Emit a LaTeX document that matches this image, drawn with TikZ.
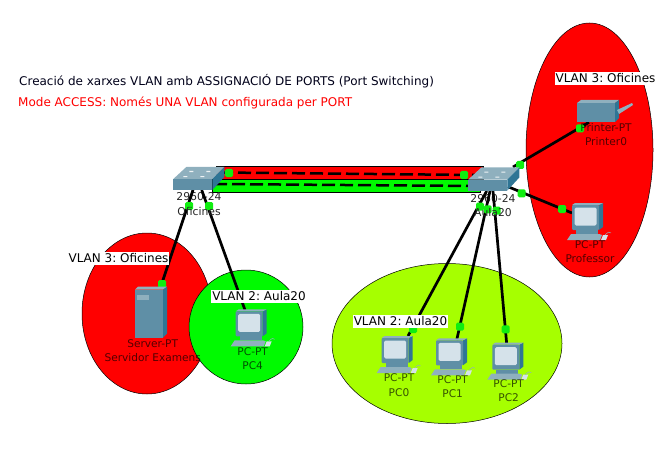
\documentclass[tikz,border=0pt]{standalone}
\usepackage{fontspec}
\setmainfont{DejaVu Sans}
\frenchspacing
\begin{document}
\begin{tikzpicture}[
        x=1pt, y=-1pt,
        zone/.style={draw=black, line width=0.5pt},
        vlanlabel/.style={fill=white, inner xsep=1pt, inner ysep=0pt, minimum height=13pt, font=\fontsize{12}{13}\selectfont},
        devlabel/.style={inner sep=0pt, text=black, text opacity=0.68, font=\fontsize{10.6}{12}\selectfont},
        swlabel/.style={inner sep=0pt, text=black!85, font=\fontsize{10.8}{12}\selectfont},
        link/.style={line width=2.7pt, draw=black},
        trunk/.style={line width=2.5pt, draw=black, dash pattern=on 13pt off 5pt},
        portdot/.style={rectangle, rounded corners=1.5pt, fill=portgreen, minimum size=8pt, inner sep=0pt},
        switchicon/.pic={
            \fill[toplight] (0,0) -- (13,-12) -- (51,-12) -- (39,0) -- cycle;
            \fill[frontblue] (0,0) rectangle (39,11);
            \fill[sideblue] (39,0) -- (51,-12) -- (51,-2) -- (39,11) -- cycle;
            \fill[white!85!toplight] (16,-8) rectangle (20,-7) (33,-8) rectangle (37,-7) (10,-3) rectangle (14,-2) (27,-3) rectangle (31,-2);
        },
        pcicon/.pic={
            \fill[sideblue] (27,2) -- (31,0) -- (31,24) -- (27,27) -- cycle;
            \fill[toplight] (0,2) -- (3,0) -- (31,0) -- (27,2) -- cycle;
            \fill[frontblue, rounded corners=1pt] (0,2) rectangle (27,27);
            \fill[screenblue, rounded corners=1.5pt] (2.5,4.5) rectangle (24.5,22.5);
            \fill[frontblue] (4,27) rectangle (26,31);
            \fill[toplight] (-1,31) -- (27,31) -- (30,32) -- (28,37) -- (-5,37) -- cycle;
            \fill[screenblue] (31,32) -- (36,32) -- (34,37) -- (29,37) -- cycle;
            \draw[toplight, line width=0.5pt] (33,32) .. controls (36,29) and (38,28) .. (39,30);
        },
        servericon/.pic={
            \fill[toplight] (0,3) -- (3,0) -- (32,0) -- (28,3) -- cycle;
            \fill[frontblue] (0,3) rectangle (28,51);
            \fill[sideblue] (28,3) -- (32,0) -- (32,47) -- (28,51) -- cycle;
            \fill[toplight] (2,8) rectangle (14,13);
        },
        printericon/.pic={
            \fill[toplight] (0,3) -- (4,0) -- (42,0) -- (38,3) -- cycle;
            \fill[frontblue] (0,3) rectangle (38,22);
            \fill[sideblue] (38,3) -- (42,0) -- (42,18) -- (38,22) -- cycle;
            \fill[toplight] (40,10) -- (55,3) -- (56,5) -- (42,14) -- cycle;
        }
    ]
    \definecolor{zonered}{HTML}{FF0000}
    \definecolor{zonegreen}{HTML}{00FA00}
    \definecolor{zonelime}{HTML}{A6FF00}
    \definecolor{portgreen}{HTML}{10EE10}
    \definecolor{frontblue}{HTML}{5F8FA6}
    \definecolor{sideblue}{HTML}{2F7595}
    \definecolor{toplight}{HTML}{8FB0BE}
    \definecolor{screenblue}{HTML}{D5E2EA}

    \useasboundingbox (0,0) rectangle (671,457);

    % zones
    \fill[zonered, zone] (589.5,150) ellipse [x radius=63.5, y radius=127];
    \fill[zonered, zone] (147,313.5) ellipse [x radius=65, y radius=80.5];
    \fill[zonegreen, zone] (246,327) circle [radius=57];
    \fill[zonelime, zone] (447,343.5) ellipse [x radius=115, y radius=80];

    % titles
    \node[anchor=west, inner sep=0pt, text=black!90!blue, font=\fontsize{12}{14}\selectfont] (title) at (19,81) {Creació de xarxes VLAN amb ASSIGNACIÓ DE PORTS (Port Switching)};
    \node[anchor=west, inner sep=0pt, text=red, font=\fontsize{12}{14}\selectfont] (subtitle) at (18,103) {Mode ACCESS: Només UNA VLAN configurada per PORT};

    % trunk between the switches
    \fill[zonered, draw=black, line width=1pt] (216,167) rectangle (483,179);
    \fill[zonegreen, draw=black, line width=1pt] (212,179) rectangle (480,192);
    \coordinate (tr1_a) at (220,172.5);
    \coordinate (tr1_b) at (476,175);
    \coordinate (tr2_a) at (214,184);
    \coordinate (tr2_b) at (476,186);
    \draw[trunk] (tr1_a) -- (tr1_b);
    \draw[trunk] (tr2_a) -- (tr2_b);
    \node[portdot] (d_tr1) at (229,173) {};
    \node[portdot] (d_tr2) at (464,175) {};

    % labels under the switches, behind the cables
    \node[swlabel] (sw_ofi_model) at (199,197) {2960-24};
    \node[swlabel] (sw_aula_model) at (493,199) {2960-24};

    % end points of the cables
    \coordinate (sw_ofi_a) at (193,190);
    \coordinate (sw_ofi_b) at (201.7,190);
    \coordinate (sw_aula_a) at (486.7,191);
    \coordinate (sw_aula_b) at (490,191);
    \coordinate (sw_aula_c) at (493,191);
    \coordinate (sw_aula_d) at (513,167);
    \coordinate (sw_aula_e) at (508,186.7);
    \coordinate (srv_port) at (162,283);
    \coordinate (pc4_port) at (245,310);
    \coordinate (pc0_port) at (408,336);
    \coordinate (pc1_port) at (456.7,340);
    \coordinate (pc2_port) at (506.7,344);
    \coordinate (prn_port) at (589,122.3);
    \coordinate (prof_port) at (572,213);

    \draw[link] (sw_ofi_a) -- (srv_port);
    \draw[link] (sw_ofi_b) -- (pc4_port);
    \draw[link] (sw_aula_a) -- (pc0_port);
    \draw[link] (sw_aula_b) -- (pc1_port);
    \draw[link] (sw_aula_c) -- (pc2_port);
    \draw[link] (sw_aula_d) -- (prn_port);
    \draw[link] (sw_aula_e) -- (prof_port);

    % link lights
    \node[portdot] (d1) at (189,206) {};
    \node[portdot] (d2) at (209,206) {};
    \node[portdot] (d3) at (162,284) {};
    \node[portdot] (d4) at (480,206.7) {};
    \node[portdot] (d5) at (487.7,209.3) {};
    \node[portdot] (d6) at (496.7,210.7) {};
    \node[portdot] (d7) at (413,329) {};
    \node[portdot] (d8) at (460,326.7) {};
    \node[portdot] (d9) at (505.7,329.3) {};
    \node[portdot] (d10) at (520,165) {};
    \node[portdot] (d11) at (580,128.3) {};
    \node[portdot] (d12) at (521.7,193.3) {};
    \node[portdot] (d13) at (562,209) {};

    % devices
    \pic at (173.3,179) {switchicon};
    \pic at (468.3,179.5) {switchicon};
    \pic at (135,286.7) {servericon};
    \pic at (577,100) {printericon};
    \pic at (235.7,309.3) {pcicon};
    \pic at (381.7,336) {pcicon};
    \pic at (436,338.3) {pcicon};
    \pic at (492.3,342.7) {pcicon};
    \pic at (572,203) {pcicon};

    % device names
    \node[swlabel] (sw_ofi_name) at (199,211) {Oficines};
    \node[swlabel] (sw_aula_name) at (493,212) {Aula20};
    \node[devlabel] (srv_model) at (152.7,344) {Server-PT};
    \node[devlabel] (srv_name) at (152.7,358) {Servidor Examens};
    \node[devlabel] (pc4_model) at (252.7,352) {PC-PT};
    \node[devlabel] (pc4_name) at (252.7,366) {PC4};
    \node[devlabel] (pc0_model) at (399,378) {PC-PT};
    \node[devlabel] (pc0_name) at (399,392.3) {PC0};
    \node[devlabel] (pc1_model) at (452.7,380) {PC-PT};
    \node[devlabel] (pc1_name) at (452.7,394) {PC1};
    \node[devlabel] (pc2_model) at (508.7,384) {PC-PT};
    \node[devlabel] (pc2_name) at (508.7,397.7) {PC2};
    \node[devlabel] (prof_model) at (590,245) {PC-PT};
    \node[devlabel] (prof_name) at (590,259) {Professor};
    \node[devlabel] (prn_model) at (606,128) {Printer-PT};
    \node[devlabel] (prn_name) at (606,141.7) {Printer0};

    % zone labels
    \node[vlanlabel] (vlan_server) at (118.5,258) {VLAN 3: Oficines};
    \node[vlanlabel] (vlan_pc4) at (259,296.5) {VLAN 2: Aula20};
    \node[vlanlabel] (vlan_aula) at (400.5,321) {VLAN 2: Aula20};
    \node[vlanlabel] (vlan_ofi) at (605.5,78.5) {VLAN 3: Oficines};
\end{tikzpicture}
\end{document}
